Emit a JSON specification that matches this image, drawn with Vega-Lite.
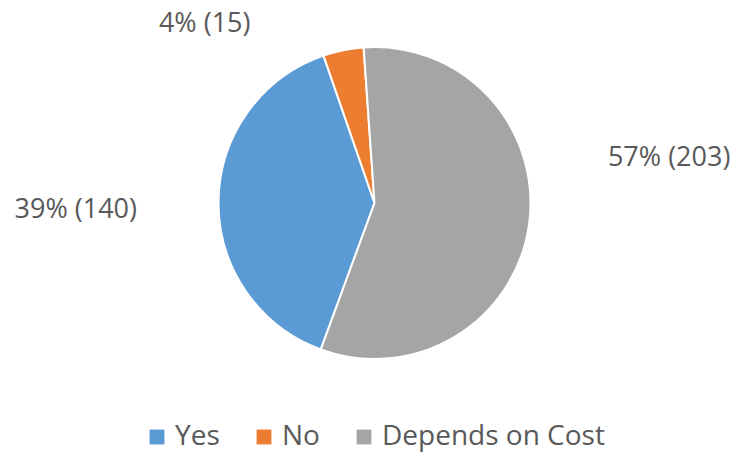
{
  "$schema": "https://vega.github.io/schema/vega-lite/v6.json",
  "width": 721,
  "height": 406,
  "autosize": {"type": "none"},
  "padding": {"left": 14, "top": 0, "right": 0, "bottom": 47},
  "background": "white",
  "config": {"view": {"stroke": null}, "font": "Open Sans"},
  "data": {
    "values": [
      {"answer": "Yes", "count": 140, "label": "39% (140)"},
      {"answer": "No", "count": 15, "label": "4% (15)"},
      {"answer": "Depends on Cost", "count": 203, "label": "57% (203)"}
    ]
  },
  "encoding": {
    "theta": {"field": "count", "type": "quantitative", "stack": true, "scale": {"range": [-0.0698, 6.2134]}},
    "order": {"field": "count", "sort": "descending"}
  },
  "layer": [
    {
      "mark": {"type": "arc", "outerRadius": 156, "stroke": "white", "strokeWidth": 2},
      "encoding": {
        "color": {
          "field": "answer",
          "type": "nominal",
          "scale": {"domain": ["Yes", "No", "Depends on Cost"], "range": ["#5B9BD5", "#ED7D31", "#A5A5A5"]},
          "legend": {
            "orient": "none",
            "legendX": 129,
            "legendY": 423,
            "direction": "horizontal",
            "title": null,
            "symbolType": "square",
            "symbolSize": 220,
            "symbolStrokeWidth": 0,
            "symbolOpacity": 1,
            "labelFontSize": 28,
            "labelFont": "Open Sans",
            "labelColor": "#595959",
            "labelLimit": 400,
            "columnPadding": 30,
            "labelOffset": 4,
            "padding": 0
          }
        }
      }
    },
    {
      "mark": {"type": "text", "align": "left", "baseline": "alphabetic", "dx": 75, "dy": -59.5, "fontSize": 27, "font": "Open Sans"},
      "encoding": {
        "radius": {"value": 160},
        "color": {"value": "#595959"},
        "text": {"condition": {"test": "datum.answer === 'Depends on Cost'", "field": "label"}, "value": ""}
      }
    },
    {
      "mark": {"type": "text", "align": "right", "baseline": "alphabetic", "dx": -7.5, "dy": 17, "fontSize": 27, "font": "Open Sans"},
      "encoding": {
        "radius": {"value": 230},
        "color": {"value": "#595959"},
        "text": {"condition": {"test": "datum.answer === 'Yes'", "field": "label"}, "value": ""}
      }
    },
    {
      "mark": {"type": "text", "align": "right", "baseline": "alphabetic", "dx": -89, "dy": 0, "fontSize": 27, "font": "Open Sans"},
      "encoding": {
        "radius": {"value": 175},
        "color": {"value": "#595959"},
        "text": {"condition": {"test": "datum.answer === 'No'", "field": "label"}, "value": ""}
      }
    }
  ]
}
